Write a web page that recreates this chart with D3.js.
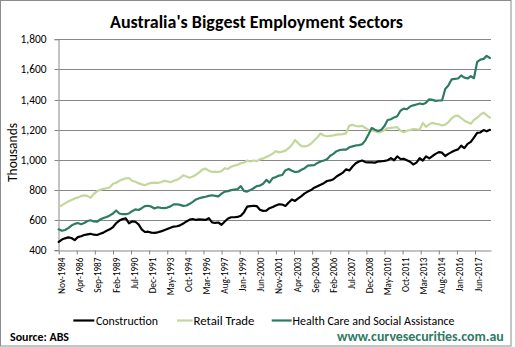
<!DOCTYPE html>
<html><head><meta charset="utf-8">
<script src="https://cdn.jsdelivr.net/npm/d3@7"></script>
<style>body{margin:0;background:#fff} svg{display:block}</style>
</head><body><svg id="c" width="515" height="347"></svg>
<script>
// ---- data (thousands, quarterly from Nov-1984) ----
const firstQuarter = "Nov-1984";
const seriesNames = ["Construction", "Retail Trade", "Health Care and Social Assistance"];
const construction = [456,472,480,486,482,468,488,494,502,506,510,504,502,510,518,530,540,555,580,598,608,612,580,592,590,572,540,522,524,518,516,520,526,534,542,550,
558,560,566,578,592,604,608,602,606,604,602,614,586,582,585,570,592,612,620,620,622,630,652,690,694,696,694,670,662,664,680,688,698,706,704,
695,718,738,728,745,760,778,790,800,816,826,836,846,860,864,872,890,903,916,938,930,956,978,990,996,986,984,984,982,990,
991,994,998,1012,998,1024,1006,1008,998,988,970,982,1012,996,1024,1010,1026,1040,1052,1048,1026,1040,1052,1062,1070,1094,1078,1106,1120,1148,1180,1182,1198,1190,1200];
const retail = [689,700,712,725,735,745,750,760,765,762,748,775,792,802,808,812,818,842,848,862,870,878,880,862,855,846,838,832,842,848,850,848,852,862,858,852,
862,868,880,898,890,882,890,902,918,936,942,928,920,922,920,926,945,940,955,962,968,978,982,996,990,996,992,1004,1010,1020,1030,1042,1058,1050,1055,
1062,1078,1100,1132,1110,1092,1090,1094,1108,1130,1150,1175,1162,1157,1160,1163,1168,1170,1171,1178,1228,1232,1225,1222,1226,1212,1200,1195,1190,1183,
1187,1198,1210,1212,1215,1217,1195,1184,1194,1198,1204,1202,1200,1246,1220,1236,1246,1240,1236,1228,1234,1250,1276,1290,1294,1278,1260,1250,1240,1266,1280,1300,1314,1296,1280];
const health = [540,530,535,548,565,576,582,574,582,595,600,592,590,605,615,622,632,645,665,645,640,640,645,660,672,668,680,694,696,690,678,686,682,680,684,692,
705,706,702,695,698,709,722,738,746,752,756,762,766,762,758,776,790,793,800,804,806,826,795,790,800,812,826,830,842,868,850,880,886,896,900,
932,940,928,920,922,935,945,962,964,966,980,990,996,1004,1028,1040,1058,1066,1068,1068,1084,1090,1096,1098,1104,1130,1170,1212,1200,1192,
1200,1225,1265,1270,1282,1290,1326,1340,1336,1354,1362,1368,1374,1370,1380,1402,1398,1392,1394,1394,1470,1494,1534,1538,1540,1560,1546,1540,1555,1542,1650,1665,1670,1690,1676];
const xTickLabels = ["Nov-1984","Apr-1986","Sep-1987","Feb-1989","Jul-1990","Dec-1991","May-1993","Oct-1994","Mar-1996","Aug-1997","Jan-1999","Jun-2000","Nov-2001","Apr-2003","Sep-2004","Feb-2006","Jul-2007","Dec-2008","May-2010","Oct-2011","Mar-2013","Aug-2014","Jan-2016","Jun-2017"];
const yTickValues = [400,600,800,1000,1200,1400,1600,1800];
const axisEnd = "Sep-2018";

// ---- styles ----
const FONT = "Carlito, Calibri, Lato, 'Open Sans', sans-serif";
const colors = ["#000000", "#c4d79b", "#2e7b65"];
const gridColor = "#878787";

const svg = d3.select("#c");
const parse = d3.timeParse("%b-%Y");
const fmt = d3.timeFormat("%b-%Y");
const start = parse(firstQuarter);
const dates = construction.map((_, i) => d3.timeMonth.offset(start, 3 * i));
const series = [construction, retail, health].map((vals, k) => ({
  name: seriesNames[k], color: colors[k],
  pts: vals.map((v, i) => ({ d: dates[i], v }))
}));

const L = 58.7, R = 491, T = 39.3, B = 250.4;
const x = d3.scaleTime().domain([start, parse(axisEnd)]).range([L, R]);
const y = d3.scaleLinear().domain([400, 1800]).range([B, T]);

function fit(sel, target) {
  const w = sel.node().getComputedTextLength();
  const fs = parseFloat(sel.attr("font-size"));
  sel.attr("font-size", (fs * target / w).toFixed(2));
  return fs * target / w;
}

// frame
svg.append("rect").attr("x", 0.5).attr("y", 0.5).attr("width", 510.5).attr("height", 345.5)
  .attr("fill", "#fff").attr("stroke", "#8c8c8c").attr("stroke-width", 1);

// title
const title = svg.append("text").attr("x", 110).attr("y", 27.5)
  .attr("font-family", FONT).attr("font-weight", "bold").attr("font-size", 17)
  .attr("fill", "#000").text("Australia's Biggest Employment Sectors");
fit(title, 293);

// gridlines
const g = svg.append("g");
g.selectAll("line.grid").data(yTickValues.filter(v => v > 400)).join("line")
  .attr("class", "grid").attr("x1", L).attr("x2", R)
  .attr("y1", d => Math.round(y(d)) + 0.5).attr("y2", d => Math.round(y(d)) + 0.5)
  .attr("stroke", gridColor).attr("stroke-width", 1);

// y axis
const yAxis = svg.append("g").attr("transform", `translate(${Math.round(L) - 0.5},0)`)
  .call(d3.axisLeft(y).tickValues(yTickValues).tickFormat(d3.format(",")).tickSize(4).tickPadding(8));
yAxis.select(".domain").attr("stroke", gridColor);
yAxis.selectAll(".tick line").attr("stroke", gridColor);
yAxis.selectAll(".tick text").attr("font-family", FONT).attr("font-size", 12).attr("fill", "#000");
yAxis.selectAll(".tick").attr("transform", d => `translate(0,${Math.round(y(d)) + 0.5})`);
{
  const t400 = yAxis.selectAll(".tick text").filter(d => d === 400);
  const fs = fit(t400, 17.3);
  yAxis.selectAll(".tick text").attr("font-size", fs.toFixed(2));
}

// x axis
const xTickDates = xTickLabels.map(parse);
const xAxis = svg.append("g").attr("transform", `translate(0,${Math.round(B) + 0.5})`)
  .call(d3.axisBottom(x).tickValues(xTickDates).tickFormat(fmt).tickSize(4).tickSizeOuter(0));
xAxis.select(".domain").attr("stroke", gridColor);
xAxis.selectAll(".tick line").attr("stroke", gridColor);
xAxis.selectAll(".tick text")
  .attr("font-family", FONT).attr("font-size", 11).attr("fill", "#000")
  .attr("text-anchor", "end").attr("transform", "rotate(-90)")
  .attr("x", -7).attr("y", 0).attr("dx", 0).attr("dy", "0.38em");
{
  const t0 = xAxis.selectAll(".tick text").filter((d, i) => i === 0);
  const fs = fit(t0, 36.5);
  xAxis.selectAll(".tick text").attr("font-size", fs.toFixed(2)).attr("transform", "translate(2.5,0) rotate(-90)");
}

// y axis title
const yt = svg.append("text").attr("transform", "translate(16.5,152.5) rotate(-90)")
  .attr("text-anchor", "middle").attr("font-family", FONT).attr("font-size", 13)
  .attr("fill", "#000").text("Thousands");
fit(yt, 59);

// lines
const line = d3.line().x(d => x(d.d)).y(d => y(d.v));
svg.append("g").selectAll("path").data(series).join("path")
  .attr("d", s => line(s.pts)).attr("fill", "none")
  .attr("stroke", s => s.color).attr("stroke-width", 2.2)
  .attr("stroke-linejoin", "round").attr("stroke-linecap", "round");

// legend
const legendPos = [{ x1: 73.3, x2: 94.3, tx: 96, w: 62 }, { x1: 177, x2: 192.7, tx: 193.5, w: 61 }, { x1: 271.7, x2: 291.7, tx: 292.5, w: 162 }];
const lg = svg.append("g");
series.forEach((s, i) => {
  const p = legendPos[i];
  lg.append("line").attr("x1", p.x1).attr("x2", p.x2).attr("y1", 320.5).attr("y2", 320.5)
    .attr("stroke", s.color).attr("stroke-width", 2.2);
  const t = lg.append("text").attr("x", p.tx).attr("y", 325).attr("font-family", FONT)
    .attr("font-size", 12).attr("fill", "#000").text(s.name);
  fit(t, p.w);
});

// footer
const src = svg.append("text").attr("x", 10).attr("y", 340.5).attr("font-family", FONT)
  .attr("font-weight", "bold").attr("font-size", 12).attr("fill", "#000").text("Source: ABS");
fit(src, 59);
const web = svg.append("text").attr("x", 337).attr("y", 341).attr("font-family", FONT)
  .attr("font-weight", "bold").attr("font-size", 14).attr("fill", "#2e7b65").text("www.curvesecurities.com.au");
fit(web, 167);
</script>
</body></html>
